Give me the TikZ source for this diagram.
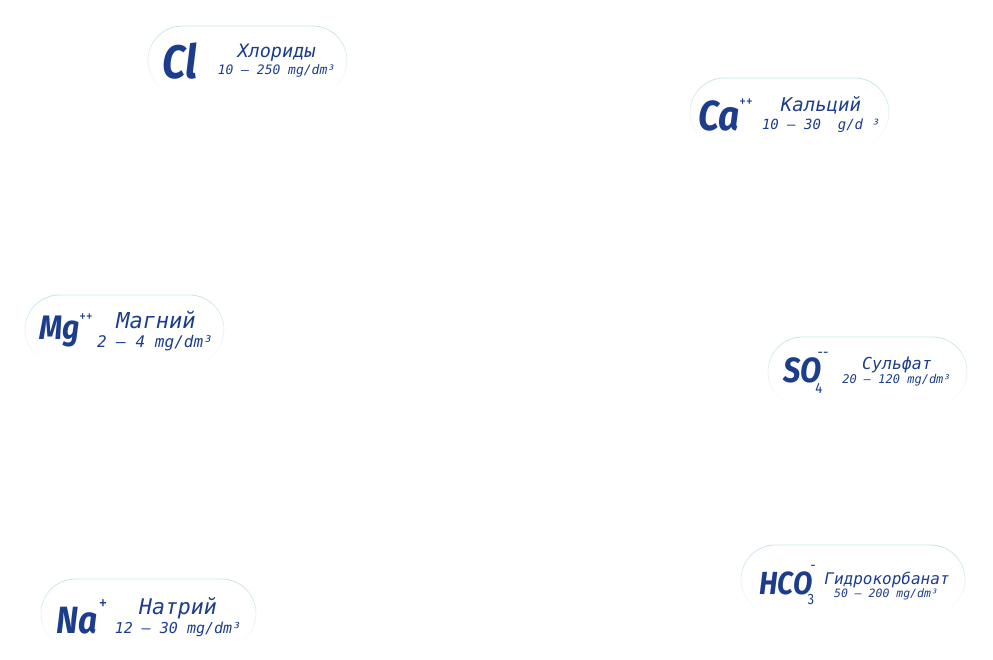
\documentclass[tikz,border=0pt]{standalone}
\usepackage{fontspec}
\usetikzlibrary{shapes.misc,fadings}
\newfontfamily\symfont[FakeStretch=0.88]{Fira Sans}
\newfontfamily\labelfont{DejaVu Sans Mono}
\definecolor{ionblue}{RGB}{28,61,140}
\definecolor{pillline}{RGB}{200,226,233}
\tikzfading[name=pillfade, top color=transparent!0, middle color=transparent!15, bottom color=transparent!100]

\begin{document}
\begin{tikzpicture}[x=1pt, y=-1pt,
    pill/.style={rounded rectangle, draw=pillline, line width=0.8pt,
        minimum width=199pt, minimum height=69pt, inner sep=0pt,
        path fading=pillfade},
    sym/.style={font=\symfont\bfseries\itshape, text=ionblue,
        inner sep=0pt, anchor=base west},
    charge/.style={font=\symfont\fontsize{15}{15}\selectfont, text=ionblue,
        inner sep=0pt},
    ionname/.style={font=\labelfont\itshape, text=ionblue,
        inner sep=0pt, anchor=base},
    ionrange/.style={ionname}
]
    \useasboundingbox (0,0) rectangle (993,659);
    % pills
    \node[pill] (clpill) at (247.5,60.5) {};
    \node[pill] (capill) at (789.5,112.5) {};
    \node[pill] (mgpill) at (124.5,329.5) {};
    \node[pill] (sopill) at (867.5,371.5) {};
    \node[pill, minimum width=224pt] (hcopill) at (853,579.5) {};
    \node[pill, minimum width=215pt] (napill) at (148.5,613.5) {};
    % chlorides
    \node[sym, font=\symfont\bfseries\itshape\fontsize{47}{47}\selectfont] (cl) at (162,78) {Cl};
    \node[ionname, font=\labelfont\itshape\fontsize{18.5}{18}\selectfont] (clname) at (276.5,57) {Хлориды};
    \node[ionrange, font=\labelfont\itshape\fontsize{13}{13}\selectfont] (clrange) at (276.5,74) {10 – 250 mg/dm³};
    % calcium
    \node[sym, font=\symfont\bfseries\itshape\fontsize{42}{42}\selectfont] (ca) at (698,130) {Ca};
    \node[charge] (cacharge) at (746,103) {++};
    \node[ionname, font=\labelfont\itshape\fontsize{19}{19}\selectfont] (caname) at (821,111) {Кальций};
    \node[ionrange, font=\labelfont\itshape\fontsize{14}{14}\selectfont] (carange) at (821,129) {10 – 30~~g/d~³};
    % magnesium
    \node[sym, font=\symfont\bfseries\itshape\fontsize{34}{34}\selectfont] (mg) at (39,339) {Mg};
    \node[charge] (mgcharge) at (86,318) {++};
    \node[ionname, font=\labelfont\itshape\fontsize{22}{22}\selectfont] (mgname) at (156,328) {Магний};
    \node[ionrange, font=\labelfont\itshape\fontsize{16}{16}\selectfont] (mgrange) at (155,347) {2 – 4 mg/dm³};
    % sulphate
    \node[sym, font=\symfont\bfseries\itshape\fontsize{35}{35}\selectfont] (so) at (783,382) {SO};
    \node[charge] (socharge) at (823,355) {--};
    \node[charge] (soindex) at (819,388) {4};
    \node[ionname, font=\labelfont\itshape\fontsize{16.5}{16}\selectfont] (soname) at (897,369) {Сульфат};
    \node[ionrange, font=\labelfont\itshape\fontsize{12}{12}\selectfont] (sorange) at (896.5,383) {20 – 120 mg/dm³};
    % hydrocarbonate
    \node[sym, font=\symfont\bfseries\itshape\fontsize{32}{32}\selectfont] (hco) at (759,594) {HCO};
    \node[charge] (hcocharge) at (813,568) {-};
    \node[charge] (hcoindex) at (811,599) {3};
    \node[ionname, font=\labelfont\itshape\fontsize{16}{16}\selectfont] (hconame) at (887,584) {Гидрокорбанат};
    \node[ionrange, font=\labelfont\itshape\fontsize{11.5}{11}\selectfont] (hcorange) at (886,597) {50 – 200 mg/dm³};
    % sodium
    \node[sym, font=\symfont\bfseries\itshape\fontsize{38}{38}\selectfont] (na) at (56,633) {Na};
    \node[charge, font=\symfont\fontsize{19}{19}\selectfont] (nacharge) at (103,605) {+};
    \node[ionname, font=\labelfont\itshape\fontsize{21.5}{21}\selectfont] (naname) at (178,614) {Натрий};
    \node[ionrange, font=\labelfont\itshape\fontsize{15}{15}\selectfont] (narange) at (178,633) {12 – 30 mg/dm³};
\end{tikzpicture}
\end{document}
